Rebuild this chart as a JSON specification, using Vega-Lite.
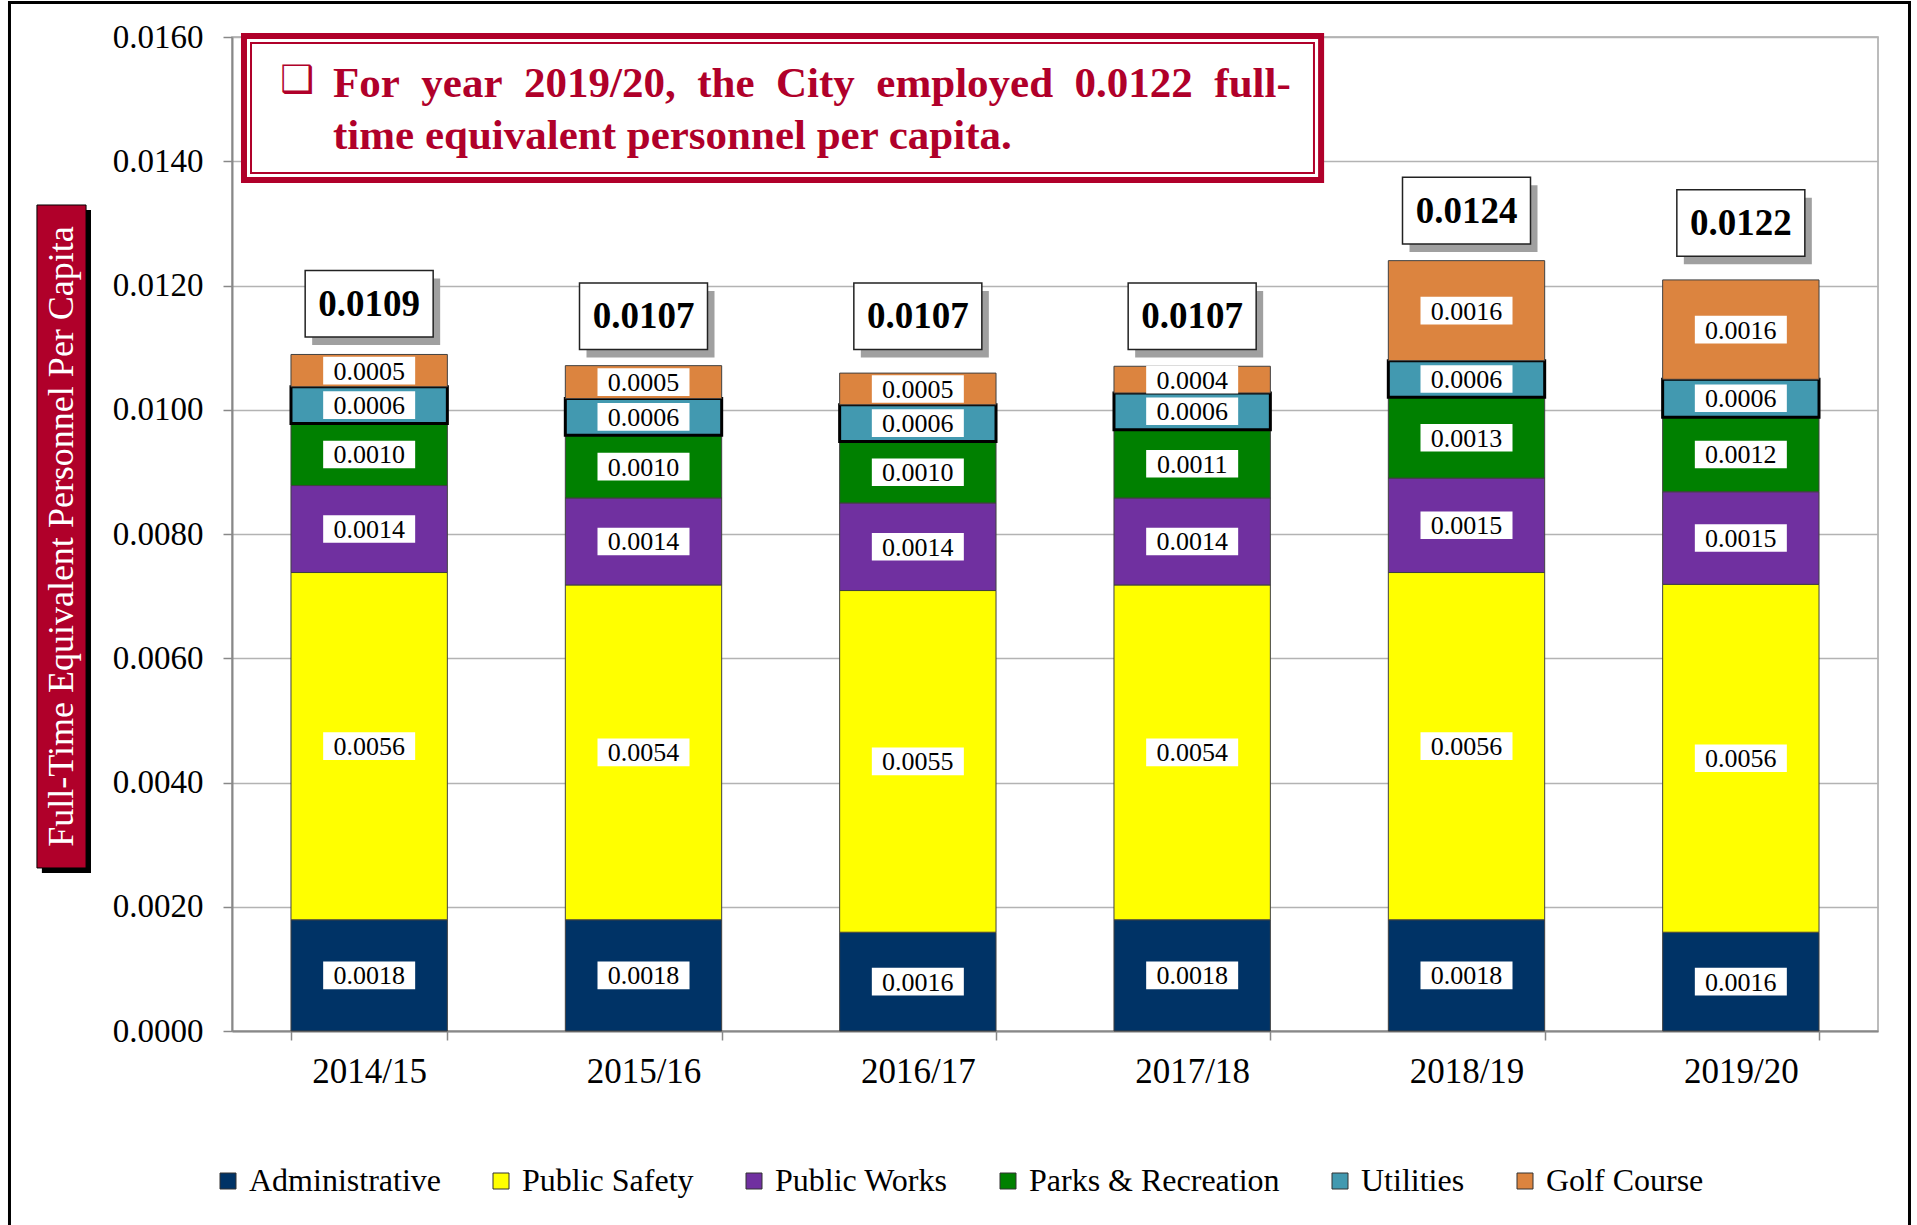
{
  "$schema": "https://vega.github.io/schema/vega-lite/v6.json",
  "width": 1646,
  "height": 994,
  "autosize": {"type": "none"},
  "padding": {"left": 232, "top": 37, "right": 39, "bottom": 194},
  "background": "white",
  "config": {
    "font": "Liberation Serif",
    "view": {"stroke": "#A6A6A6", "strokeWidth": 1.5}
  },
  "datasets": {
    "seg": [
      {"year": "2014/15", "series": "Administrative", "ord": 1, "value": 0.00179},
      {"year": "2014/15", "series": "Public Safety", "ord": 2, "value": 0.00559},
      {"year": "2014/15", "series": "Public Works", "ord": 3, "value": 0.00140},
      {"year": "2014/15", "series": "Parks & Recreation", "ord": 4, "value": 0.00100},
      {"year": "2014/15", "series": "Utilities", "ord": 5, "value": 0.00059},
      {"year": "2014/15", "series": "Golf Course", "ord": 6, "value": 0.00052},
      {"year": "2015/16", "series": "Administrative", "ord": 1, "value": 0.00179},
      {"year": "2015/16", "series": "Public Safety", "ord": 2, "value": 0.00539},
      {"year": "2015/16", "series": "Public Works", "ord": 3, "value": 0.00140},
      {"year": "2015/16", "series": "Parks & Recreation", "ord": 4, "value": 0.00101},
      {"year": "2015/16", "series": "Utilities", "ord": 5, "value": 0.00059},
      {"year": "2015/16", "series": "Golf Course", "ord": 6, "value": 0.00053},
      {"year": "2016/17", "series": "Administrative", "ord": 1, "value": 0.00159},
      {"year": "2016/17", "series": "Public Safety", "ord": 2, "value": 0.00550},
      {"year": "2016/17", "series": "Public Works", "ord": 3, "value": 0.00141},
      {"year": "2016/17", "series": "Parks & Recreation", "ord": 4, "value": 0.00099},
      {"year": "2016/17", "series": "Utilities", "ord": 5, "value": 0.00059},
      {"year": "2016/17", "series": "Golf Course", "ord": 6, "value": 0.00051},
      {"year": "2017/18", "series": "Administrative", "ord": 1, "value": 0.00179},
      {"year": "2017/18", "series": "Public Safety", "ord": 2, "value": 0.00539},
      {"year": "2017/18", "series": "Public Works", "ord": 3, "value": 0.00140},
      {"year": "2017/18", "series": "Parks & Recreation", "ord": 4, "value": 0.00110},
      {"year": "2017/18", "series": "Utilities", "ord": 5, "value": 0.00059},
      {"year": "2017/18", "series": "Golf Course", "ord": 6, "value": 0.00043},
      {"year": "2018/19", "series": "Administrative", "ord": 1, "value": 0.00179},
      {"year": "2018/19", "series": "Public Safety", "ord": 2, "value": 0.00559},
      {"year": "2018/19", "series": "Public Works", "ord": 3, "value": 0.00152},
      {"year": "2018/19", "series": "Parks & Recreation", "ord": 4, "value": 0.00130},
      {"year": "2018/19", "series": "Utilities", "ord": 5, "value": 0.00059},
      {"year": "2018/19", "series": "Golf Course", "ord": 6, "value": 0.00161},
      {"year": "2019/20", "series": "Administrative", "ord": 1, "value": 0.00159},
      {"year": "2019/20", "series": "Public Safety", "ord": 2, "value": 0.00560},
      {"year": "2019/20", "series": "Public Works", "ord": 3, "value": 0.00149},
      {"year": "2019/20", "series": "Parks & Recreation", "ord": 4, "value": 0.00120},
      {"year": "2019/20", "series": "Utilities", "ord": 5, "value": 0.00061},
      {"year": "2019/20", "series": "Golf Course", "ord": 6, "value": 0.00160}
    ],
    "tot": [
      {"year": "2014/15", "total": 0.0109},
      {"year": "2015/16", "total": 0.0107},
      {"year": "2016/17", "total": 0.0107},
      {"year": "2017/18", "total": 0.0107},
      {"year": "2018/19", "total": 0.0124},
      {"year": "2019/20", "total": 0.0122}
    ]
  },
  "resolve": {"scale": {"x": "independent"}},
  "layer": [
    {
      "layer": [
        {
          "data": {"name": "seg"},
          "transform": [
            {"stack": "value", "groupby": ["year"], "sort": [{"field": "ord"}], "as": ["y0", "y1"]}
          ],
          "mark": {"type": "bar"},
          "encoding": {
            "x": {
              "field": "year", "type": "nominal",
              "scale": {"domain": ["2014/15", "2015/16", "2016/17", "2017/18", "2018/19", "2019/20"], "paddingInner": 0.43, "paddingOuter": 0.215},
              "axis": {"title": null, "labelAngle": 0, "labelFont": "Liberation Serif", "labelFontSize": 35, "labelColor": "black", "tickBand": "extent", "tickSize": 9, "tickColor": "#888888", "tickWidth": 1.5, "domainColor": "#888888", "domainWidth": 2, "labelPadding": 14}
            },
            "y": {
              "field": "y1", "type": "quantitative", "title": null,
              "scale": {"domain": [0, 0.016], "nice": false},
              "axis": {"title": null, "values": [0, 0.002, 0.004, 0.006, 0.008, 0.01, 0.012, 0.014, 0.016], "format": ".4f", "labelFont": "Liberation Serif", "labelFontSize": 33, "labelColor": "black", "tickSize": 9, "tickColor": "#888888", "tickWidth": 1.5, "domainColor": "#888888", "domainWidth": 2, "gridColor": "#B3B3B3", "gridWidth": 1.5, "labelPadding": 20}
            },
            "y2": {"field": "y0"},
            "fill": {
              "field": "series", "type": "nominal",
              "scale": {"domain": ["Administrative", "Public Safety", "Public Works", "Parks & Recreation", "Utilities", "Golf Course"], "range": ["#003366", "#FFFF00", "#7030A0", "#008000", "#4299B0", "#DC843F"]},
              "legend": {"orient": "none", "legendX": -20, "legendY": 1128, "direction": "horizontal", "title": null, "labelFont": "Liberation Serif", "labelFontSize": 32, "labelColor": "black", "symbolType": "square", "symbolSize": 256, "symbolStrokeColor": "#333333", "symbolStrokeWidth": 1, "columnPadding": 44, "labelOffset": 5, "labelLimit": 0}
            },
            "stroke": {"condition": {"test": "datum.series === 'Utilities'", "value": "#000000"}, "value": "#404040"},
            "strokeWidth": {"condition": {"test": "datum.series === 'Utilities'", "value": 3}, "value": 1}
          }
        },
        {
          "data": {"name": "seg"},
          "transform": [
            {"stack": "value", "groupby": ["year"], "sort": [{"field": "ord"}], "as": ["y0", "y1"]},
            {"calculate": "(datum.y0 + datum.y1) / 2", "as": "mid"}
          ],
          "mark": {"type": "point", "shape": "M-1,-0.3H1V0.3H-1Z", "size": 8464, "filled": true, "fill": "white", "opacity": 1, "strokeWidth": 0},
          "encoding": {
            "x": {"field": "year", "type": "nominal"},
            "y": {"field": "mid", "type": "quantitative", "title": null}
          }
        },
        {
          "data": {"name": "seg"},
          "transform": [
            {"stack": "value", "groupby": ["year"], "sort": [{"field": "ord"}], "as": ["y0", "y1"]},
            {"calculate": "(datum.y0 + datum.y1) / 2", "as": "mid"}
          ],
          "mark": {"type": "text", "font": "Liberation Serif", "fontSize": 26, "color": "black", "align": "center", "baseline": "middle", "dy": 1},
          "encoding": {
            "x": {"field": "year", "type": "nominal"},
            "y": {"field": "mid", "type": "quantitative", "title": null},
            "text": {"field": "value", "type": "quantitative", "format": ".4f"}
          }
        },
        {
          "data": {"name": "tot"},
          "mark": {"type": "point", "shape": "M-1,-0.52H1V0.52H-1Z", "size": 16384, "filled": true, "fill": "#A0A0A0", "opacity": 1, "strokeWidth": 0, "xOffset": 7, "yOffset": -42},
          "encoding": {
            "x": {"field": "year", "type": "nominal"},
            "y": {"field": "total", "type": "quantitative", "title": null}
          }
        },
        {
          "data": {"name": "tot"},
          "mark": {"type": "point", "shape": "M-1,-0.52H1V0.52H-1Z", "size": 16384, "filled": true, "fill": "white", "opacity": 1, "stroke": "#222222", "strokeWidth": 1.5, "yOffset": -50},
          "encoding": {
            "x": {"field": "year", "type": "nominal"},
            "y": {"field": "total", "type": "quantitative", "title": null}
          }
        },
        {
          "data": {"name": "tot"},
          "mark": {"type": "text", "font": "Liberation Serif", "fontSize": 37, "fontWeight": "bold", "color": "black", "align": "center", "baseline": "middle", "yOffset": -49},
          "encoding": {
            "x": {"field": "year", "type": "nominal"},
            "y": {"field": "total", "type": "quantitative", "title": null},
            "text": {"field": "total", "type": "quantitative", "format": ".4f"}
          }
        }
      ]
    },
    {
      "data": {"values": [{"note": 1}]},
      "layer": [
        {
          "mark": {"type": "rect", "fill": null, "filled": false, "stroke": "#000000", "strokeWidth": 3},
          "encoding": {
            "x": {"datum": -0.8111, "type": "quantitative", "scale": {"domain": [0, 6], "nice": false, "zero": false}, "axis": null},
            "x2": {"datum": 6.1148},
            "y": {"datum": 0.016555, "type": "quantitative"},
            "y2": {"datum": -0.004}
          }
        },
        {
          "mark": {"type": "rect", "fill": "#000000"},
          "encoding": {
            "x": {"datum": -0.693, "type": "quantitative"},
            "x2": {"datum": -0.514},
            "y": {"datum": 0.013216, "type": "quantitative"},
            "y2": {"datum": 0.002544}
          }
        },
        {
          "mark": {"type": "rect", "fill": "#B0002A", "stroke": "#000000", "strokeWidth": 1},
          "encoding": {
            "x": {"datum": -0.711, "type": "quantitative"},
            "x2": {"datum": -0.532},
            "y": {"datum": 0.013296, "type": "quantitative"},
            "y2": {"datum": 0.002624}
          }
        },
        {
          "mark": {"type": "text", "text": "Full-Time Equivalent Personnel Per Capita", "angle": 270, "font": "Liberation Serif", "fontSize": 36, "color": "white", "align": "center", "baseline": "middle"},
          "encoding": {
            "x": {"datum": -0.6215, "type": "quantitative"},
            "y": {"datum": 0.00796, "type": "quantitative"}
          }
        },
        {
          "mark": {"type": "rect", "fill": "white", "stroke": "#B0002A", "strokeWidth": 6},
          "encoding": {
            "x": {"datum": 0.0437, "type": "quantitative"},
            "x2": {"datum": 3.970},
            "y": {"datum": 0.016016, "type": "quantitative"},
            "y2": {"datum": 0.013698}
          }
        },
        {
          "mark": {"type": "rect", "fill": null, "filled": false, "stroke": "#B0002A", "strokeWidth": 2},
          "encoding": {
            "x": {"datum": 0.0693, "type": "quantitative"},
            "x2": {"datum": 3.944},
            "y": {"datum": 0.015903, "type": "quantitative"},
            "y2": {"datum": 0.013811}
          }
        },
        {
          "mark": {"type": "text", "text": "❑", "font": "DejaVu Sans", "fontSize": 38, "fontWeight": "bold", "color": "#B0002A", "align": "left", "baseline": "middle"},
          "encoding": {
            "x": {"datum": 0.175, "type": "quantitative"},
            "y": {"datum": 0.015290, "type": "quantitative"}
          }
        },
        {
          "mark": {"type": "text", "text": "For\u2005 year\u2005 2019/20,\u2005 the\u2005 City\u2005 employed\u2005 0.0122\u2005 full-", "font": "Liberation Serif", "fontSize": 43, "fontWeight": "bold", "color": "#B0002A", "align": "left", "baseline": "middle"},
          "encoding": {
            "x": {"datum": 0.368, "type": "quantitative"},
            "y": {"datum": 0.015243, "type": "quantitative"}
          }
        },
        {
          "mark": {"type": "text", "text": "time equivalent personnel per capita.", "font": "Liberation Serif", "fontSize": 43, "fontWeight": "bold", "color": "#B0002A", "align": "left", "baseline": "middle"},
          "encoding": {
            "x": {"datum": 0.368, "type": "quantitative"},
            "y": {"datum": 0.014406, "type": "quantitative"}
          }
        }
      ]
    }
  ]
}
